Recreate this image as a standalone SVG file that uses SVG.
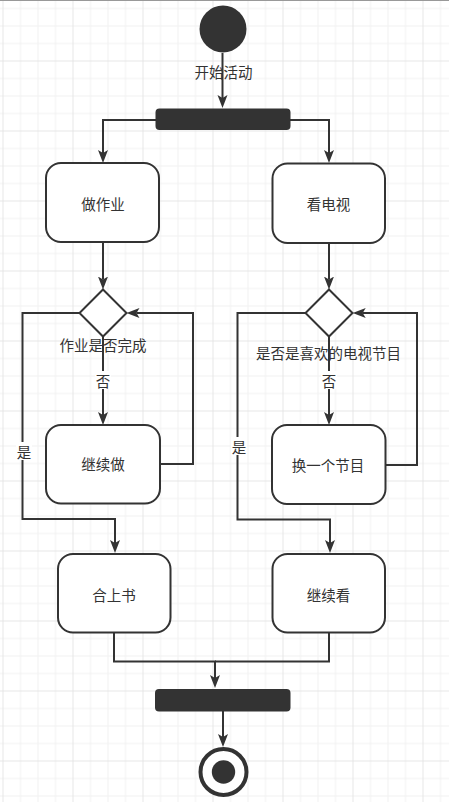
<svg xmlns="http://www.w3.org/2000/svg" width="449" height="802" viewBox="0 0 449 802">
<style>
.node{fill:#fff;stroke:#333;stroke-width:2}
.bar{fill:#333}
.edge{fill:none;stroke:#333;stroke-width:2}
.t{font-family:"Noto Sans CJK SC","Noto Sans",sans-serif;font-size:14.5px;fill:#333;text-anchor:middle;dominant-baseline:central}
.lbg{fill:#fff}
</style>
<defs>
<pattern id="grid" patternUnits="userSpaceOnUse" x="2.5" y="60.5" width="70" height="70">
<rect x="0" y="0" width="70" height="70" fill="#fff"/>
<rect x="17.5" y="0" width="1" height="70" fill="#f1f1f1"/>
<rect x="35" y="0" width="1" height="70" fill="#f1f1f1"/>
<rect x="52.5" y="0" width="1" height="70" fill="#f1f1f1"/>
<rect x="0" y="17.5" width="70" height="1" fill="#f1f1f1"/>
<rect x="0" y="35" width="70" height="1" fill="#f1f1f1"/>
<rect x="0" y="52.5" width="70" height="1" fill="#f1f1f1"/>
<rect x="0" y="0" width="1" height="70" fill="#e6e6e6"/>
<rect x="0" y="0" width="70" height="1" fill="#e6e6e6"/>
</pattern>
<marker id="arr" markerUnits="userSpaceOnUse" markerWidth="14" markerHeight="11" refX="3" refY="5" orient="auto" viewBox="0 0 14 10">
<path d="M0,0 L13,5 L0,10 L3,5 Z" fill="#333"/>
</marker>
</defs>
<rect width="449" height="802" fill="url(#grid)"/>
<line x1="0" y1="0.5" x2="449" y2="0.5" stroke="#999" stroke-width="1"/>

<g id="connectors">
<path class="edge" d="M222.5,53 V98" marker-end="url(#arr)"/>
<path class="edge" d="M156,120 H103 V153" marker-end="url(#arr)"/>
<path class="edge" d="M290,120 H329 V153" marker-end="url(#arr)"/>
<path class="edge" d="M103,242 V279.5" marker-end="url(#arr)"/>
<path class="edge" d="M329,243 V279.5" marker-end="url(#arr)"/>
<path class="edge" d="M103,336 V415" marker-end="url(#arr)"/>
<path class="edge" d="M79.5,313 H22.5 V519 H115 V543" marker-end="url(#arr)"/>
<path class="edge" d="M160,464 H193 V313 H136.5" marker-end="url(#arr)"/>
<path class="edge" d="M329,336.5 V415" marker-end="url(#arr)"/>
<path class="edge" d="M305.7,313 H237.5 V519.5 H330 V543" marker-end="url(#arr)"/>
<path class="edge" d="M385.5,465 H417 V313 H362.7" marker-end="url(#arr)"/>
<path class="edge" d="M114,633 V661.5 H215 V678" marker-end="url(#arr)"/>
<path class="edge" d="M329,633 V661.5 H215"/>
<path class="edge" d="M223,711 V737" marker-end="url(#arr)"/>
<rect class="lbg" x="95" y="371" width="16" height="18"/>
<text class="t" x="103" y="380">否</text>
<rect class="lbg" x="321" y="371" width="16" height="18"/>
<text class="t" x="329" y="380">否</text>
<rect class="lbg" x="16" y="442" width="16" height="18"/>
<text class="t" x="24" y="451">是</text>
<rect class="lbg" x="231" y="437" width="16" height="18"/>
<text class="t" x="239" y="446">是</text>
</g>

<g id="start">
<circle cx="223" cy="29" r="23.5" fill="#333"/>
<text class="t" x="223.5" y="71.5">开始活动</text>
</g>
<g id="fork">
<rect class="bar" x="155.5" y="108.5" width="135" height="21.5" rx="4"/>
</g>
<g id="doHomework">
<rect class="node" x="46" y="163" width="113" height="79" rx="15"/>
<text class="t" x="103" y="203">做作业</text>
</g>
<g id="watchTV">
<rect class="node" x="272.5" y="163.5" width="112.5" height="79.5" rx="15"/>
<text class="t" x="328.5" y="203">看电视</text>
</g>
<g id="decision1">
<path class="node" d="M103,289.5 L126.5,313 L103,336.5 L79.5,313 Z"/>
<text class="t" x="103" y="344">作业是否完成</text>
</g>
<g id="decision2">
<path class="node" d="M329,289.5 L352.5,313 L329,336.5 L305.5,313 Z"/>
<text class="t" x="328.5" y="352.5">是否是喜欢的电视节目</text>
</g>
<g id="continueDo">
<rect class="node" x="46" y="425" width="114" height="78.5" rx="15"/>
<text class="t" x="103" y="463.5">继续做</text>
</g>
<g id="changeChannel">
<rect class="node" x="272" y="425" width="113.5" height="79" rx="15"/>
<text class="t" x="328" y="464">换一个节目</text>
</g>
<g id="closeBook">
<rect class="node" x="58" y="554" width="112.5" height="78.5" rx="15"/>
<text class="t" x="114" y="594">合上书</text>
</g>
<g id="continueWatch">
<rect class="node" x="272.5" y="554" width="112.5" height="78.5" rx="15"/>
<text class="t" x="328.5" y="594">继续看</text>
</g>
<g id="join">
<rect class="bar" x="155" y="689" width="135.5" height="22.5" rx="4"/>
</g>
<g id="end">
<circle cx="223.5" cy="772" r="23" fill="#fff" stroke="#333" stroke-width="4"/>
<circle cx="223.5" cy="772" r="11.7" fill="#333"/>
</g>
</svg>
